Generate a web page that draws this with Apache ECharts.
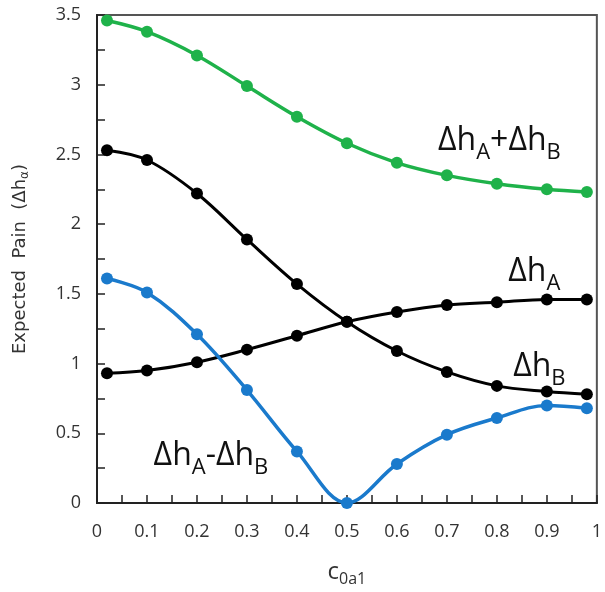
<!DOCTYPE html>
<html><head><meta charset="utf-8">
<script src="https://cdn.jsdelivr.net/npm/echarts@6/dist/echarts.min.js"></script>
<style>html,body{margin:0;padding:0;background:#fff}#c{width:605px;height:592px}</style>
</head><body><div id="c"></div>
<script>
const xValues = [0.02, 0.1, 0.2, 0.3, 0.4, 0.5, 0.6, 0.7, 0.8, 0.9, 0.98];
const sumAB  = [3.46, 3.38, 3.21, 2.99, 2.77, 2.58, 2.44, 2.35, 2.29, 2.25, 2.23];
const dhB    = [2.53, 2.46, 2.22, 1.89, 1.57, 1.30, 1.09, 0.94, 0.84, 0.80, 0.78];
const dhA    = [0.93, 0.95, 1.01, 1.10, 1.20, 1.30, 1.37, 1.42, 1.44, 1.46, 1.46];
const diffAB = [1.61, 1.51, 1.21, 0.81, 0.37, 0.00, 0.28, 0.49, 0.61, 0.70, 0.68];

const FONT = '"Open Sans", Lato, sans-serif';
const pairs = a => xValues.map((x, i) => [x, a[i]]);

const labelRich = {
  m: { fontSize: 32, fontFamily: FONT, color: '#111', lineHeight: 38, verticalAlign: 'bottom' },
  s: { fontSize: 22, fontFamily: FONT, color: '#111', lineHeight: 30, verticalAlign: 'bottom', padding: [0,0,-7,0] }
};
function annot(coord, text) {
  return {
    coord: coord, symbol: 'circle', symbolSize: 0,
    label: { show: true, position: 'inside', formatter: text, rich: labelRich }
  };
}
function series(name, data, color, width, annots) {
  return {
    name: name, type: 'line', data: pairs(data), smooth: 0.35,
    symbol: 'circle', symbolSize: 12, showSymbol: true,
    lineStyle: { color: color, width: width },
    itemStyle: { color: color },
    silent: true, animation: false,
    markPoint: annots ? { silent: true, animation: false, data: annots } : undefined
  };
}

const chart = echarts.init(document.getElementById('c'), null, { renderer: 'canvas' });
chart.setOption({
  animation: false,
  grid: { left: 97, right: 4, top: 15, bottom: 80, show: true, borderColor: '#555', borderWidth: 2 },
  xAxis: {
    type: 'value', min: 0, max: 1, interval: 0.1,
    axisLine: { show: true, onZero: false, lineStyle: { color: '#222', width: 2 } },
    axisTick: { show: true, inside: true, length: 8, lineStyle: { color: '#222', width: 1.5 } },
    minorTick: { show: true, splitNumber: 2, length: 8, lineStyle: { color: '#222', width: 1.5 } },
    splitLine: { show: false },
    axisLabel: { margin: 20, fontSize: 18, fontFamily: FONT, color: '#333' },
    name: 'c{s|0a1}', nameLocation: 'middle', nameGap: 54,
    nameTextStyle: { fontSize: 24, fontFamily: FONT, color: '#333',
      rich: { s: { fontSize: 16, fontFamily: FONT, color: '#333', padding: [14,0,0,0] } } }
  },
  yAxis: {
    type: 'value', min: 0, max: 3.5, interval: 0.5,
    axisLine: { show: true, onZero: false, lineStyle: { color: '#222', width: 2 } },
    axisTick: { show: true, inside: true, length: 8, lineStyle: { color: '#222', width: 1.5 } },
    minorTick: { show: true, splitNumber: 2, length: 8, lineStyle: { color: '#222', width: 1.5 } },
    splitLine: { show: false },
    axisLabel: { margin: 16, fontSize: 18, fontFamily: FONT, color: '#333' },
    name: 'Expected  Pain  (Δh{s|α})', nameLocation: 'middle', nameGap: 66,
    nameTextStyle: { fontSize: 18, fontFamily: '"DejaVu Sans", sans-serif', color: '#333',
      rich: { s: { fontSize: 12, fontFamily: '"DejaVu Sans", sans-serif', color: '#333', padding: [9,0,0,0] } } }
  },
  series: [
    series('sum', sumAB, '#1fb24a', 3.5, [annot([0.805, 2.62], '{m|Δh}{s|A}{m|+Δh}{s|B}')]),
    series('B', dhB, '#000', 3, [annot([0.885, 1.00], '{m|Δh}{s|B}')]),
    series('A', dhA, '#000', 3, [annot([0.875, 1.68], '{m|Δh}{s|A}')]),
    series('diff', diffAB, '#1a7acc', 3.5, [annot([0.228, 0.36], '{m|Δh}{s|A}{m|-Δh}{s|B}')])
  ]
});
</script></body></html>
